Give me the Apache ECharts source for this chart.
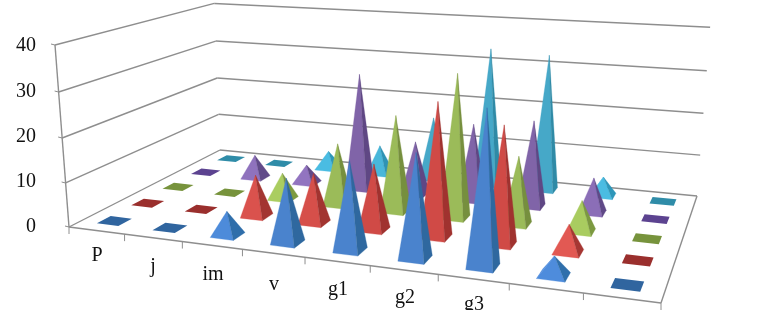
<!DOCTYPE html>
<html><head><meta charset="utf-8">
<style>html,body{margin:0;padding:0;background:#fff}#c{width:761px;height:310px}</style>
<script src="https://cdn.jsdelivr.net/npm/echarts@6/dist/echarts.min.js"></script>
</head><body><div id="c"></div>
<script>
var categories = ['P','j','im','v','g1','g2','g3','',''];
var yTicks = [0,10,20,30,40];
var row1 = [0,0,5.3,14,19,22,32,4,0];
var row2 = [0,0,9.5,11.3,14.7,29.3,25.5,6,0];
var row3 = [0,0,6.2,14.5,22.2,32.6,15.4,6.9,0];
var row4 = [0,5.7,4.5,28,12.8,18.2,20.1,8.1,0];
var row5 = [0,0,4.5,7.2,15.5,33.4,32.7,4.5,0];
var rowNames = ['Series 1','Series 2','Series 3','Series 4','Series 5'];
var rows = [row1,row2,row3,row4,row5];
var frontColors = ['#4a83cd','#d04a46','#9bbb59','#8064a8','#46a8c8'];
var sideColors  = ['#2f689f','#a0322f','#768f3e','#5f4784','#2f8aa6'];
var shortFront  = ['#4f90e2','#f0645c','#b6dc66','#9a7ccc','#4cc6ee'];
var shortSide   = ['#2f72b0','#aa3a36','#82a242','#624c8c','#2c9cc2'];
var flatColors  = ['#30659f','#9a2f2d','#77933c','#5c4390','#2f8ca8'];
var labelAnchors = [[97,256],[153,267],[213,275],[274,285],[338,290],[405,298],[474,305]];

// Projection calibrated on the chart's floor corners and vertical vanishing point
var Q = [[69,227],[661,303],[697,196],[220,150]];
var VP = [380,4270];
var dx1=Q[1][0]-Q[2][0],dx2=Q[3][0]-Q[2][0],dx3=Q[0][0]-Q[1][0]+Q[2][0]-Q[3][0];
var dy1=Q[1][1]-Q[2][1],dy2=Q[3][1]-Q[2][1],dy3=Q[0][1]-Q[1][1]+Q[2][1]-Q[3][1];
var den=dx1*dy2-dx2*dy1, G=(dx3*dy2-dx2*dy3)/den, H=(dx1*dy3-dx3*dy1)/den;
var A=Q[1][0]-Q[0][0]+G*Q[1][0],B=Q[3][0]-Q[0][0]+H*Q[3][0],C=Q[0][0];
var D=Q[1][1]-Q[0][1]+G*Q[1][1],E=Q[3][1]-Q[0][1]+H*Q[3][1],F=Q[0][1];
var K=(45-227)/(40*(VP[1]-45));
function P(u,v,h){h=h||0;var w=G*u+H*v+1+h*K;return [(A*u+B*v+C+h*K*VP[0])/w,(D*u+E*v+F+h*K*VP[1])/w];}

function blend(c1,c2,t){var n=parseInt(c1.slice(1),16),m=parseInt(c2.slice(1),16);
  var a=[n>>16,n>>8&255,n&255],b=[m>>16,m>>8&255,m&255];
  return 'rgb('+a.map(function(x,i){return Math.round(x+(b[i]-x)*t)}).join(',')+')';}
function area(a,b,c){return (b[0]-a[0])*(c[1]-a[1])-(b[1]-a[1])*(c[0]-a[0]);}
var nCat=categories.length,nRow=rows.length,HU=0.5/nCat*0.39,HV=0.5/nRow*0.39;

function renderBar(rowIdx){return function(params,api){
  var i=api.value(0),val=api.value(1),uc=(i+0.5)/nCat,vc=(rowIdx+0.5)/nRow;
  var a=P(uc-HU,vc-HV),b=P(uc+HU,vc-HV),c=P(uc+HU,vc+HV),d=P(uc-HU,vc+HV);
  if(val===0){return {type:'polygon',shape:{points:[a,b,c,d]},style:{fill:flatColors[rowIdx]}};}
  var t=P(uc,vc,val),s=Math.max(0,1-val/14);
  var fr=blend(frontColors[rowIdx],shortFront[rowIdx],s),sd=blend(sideColors[rowIdx],shortSide[rowIdx],s);
  var faces=[[a,b,fr],[b,c,sd],[c,d,sd],[d,a,fr]];
  var kids=[];
  faces.forEach(function(f){
    if(area(f[0],f[1],t)<0){kids.push({type:'polygon',shape:{points:[f[0],f[1],t]},style:{fill:f[2],stroke:f[2],lineWidth:0.3}});}
  });
  return {type:'group',children:kids};
};}

function line(p,q,w){return {type:'line',shape:{x1:p[0],y1:p[1],x2:q[0],y2:q[1]},style:{stroke:'#8e8e8e',lineWidth:w||1.4}};}
function renderFrame(params,api){
  var kids=[];
  yTicks.forEach(function(h){
    if(h>0){kids.push(line(P(0,0,h),P(0,1,h)));kids.push(line(P(0,1,h),P(1,1,h)));}
    kids.push(line(P(0,0,h),[P(0,0,h)[0]-4,P(0,0,h)[1]-1],1));
  });
  kids.push(line(P(0,0,0),P(0,0,40)));
  kids.push(line(P(0,0,0),P(0,1,0)));
  kids.push(line(P(0,1,0),P(1,1,0)));
  kids.push(line(P(1,1,0),P(1,0,0)));
  kids.push(line(P(0,0,0),P(1,0,0)));
  for(var i=0;i<=nCat;i++){var p=P(i/nCat,0);kids.push(line(p,[p[0],p[1]+7],1));}
  return {type:'group',children:kids};
}
function renderLabel(params,api){
  var i=api.value(0),a=labelAnchors[i];
  return {type:'text',style:{text:categories[i],x:a[0],y:a[1],align:'center',verticalAlign:'middle',
    font:'20px "Liberation Serif"',fill:'#111'}};
}

var series=[{type:'custom',name:'frame',coordinateSystem:'none',silent:true,data:[[0]],renderItem:renderFrame,z:1}];
for(var r=nRow-1;r>=0;r--){
  series.push({type:'custom',name:rowNames[r],coordinateSystem:'none',silent:true,z:2+(nRow-r),
    data:rows[r].map(function(v,i){return [i,v];}),encode:{},renderItem:renderBar(r)});
}
series.push({type:'custom',name:'labels',coordinateSystem:'none',silent:true,z:10,
  data:labelAnchors.map(function(a,i){return [i];}),renderItem:renderLabel});

var chart=echarts.init(document.getElementById('c'),null,{renderer:'canvas'});
chart.setOption({animation:false,backgroundColor:'#fff',
  grid:{left:44,top:46,width:20,height:181},
  xAxis:{type:'value',show:false},
  yAxis:{type:'value',min:0,max:40,interval:10,axisLine:{show:false},axisTick:{show:false},splitLine:{show:false},
    axisLabel:{margin:8,color:'#111',fontFamily:'Liberation Serif',fontSize:20}},
  series:series});
</script></body></html>
